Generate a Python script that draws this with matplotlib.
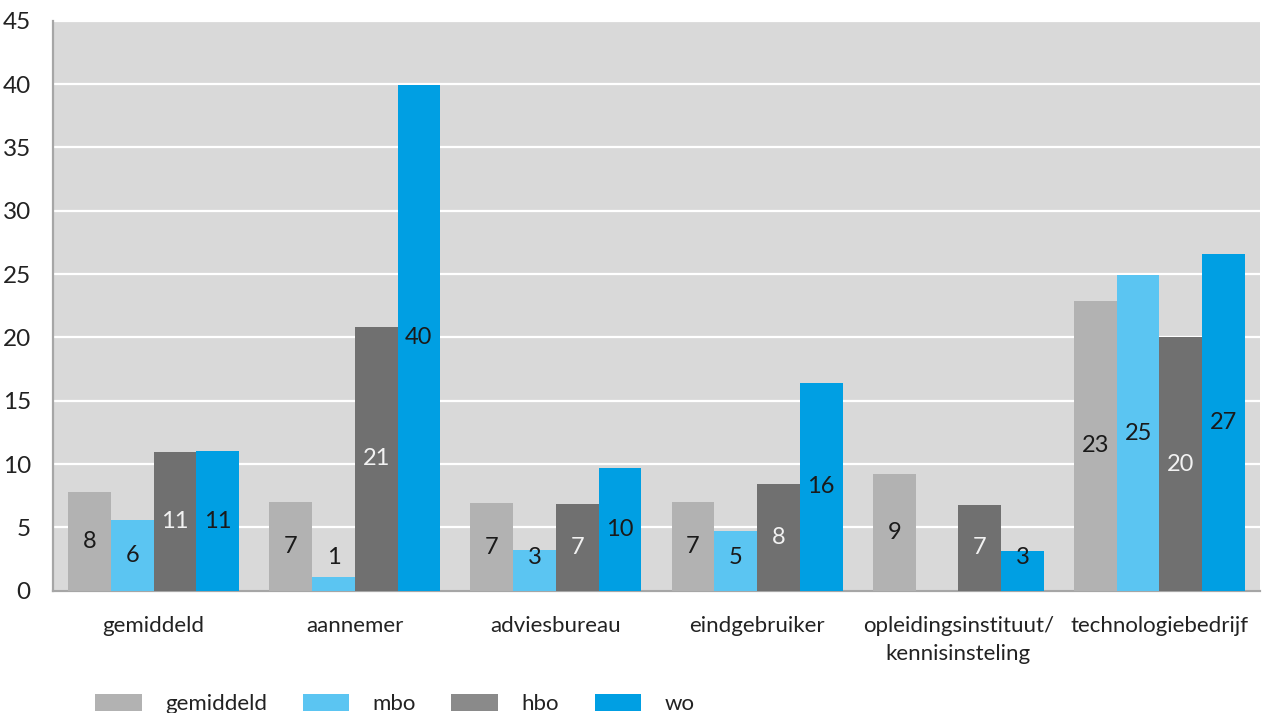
import numpy as np
import matplotlib
matplotlib.use("Agg")
import matplotlib.pyplot as plt
from matplotlib.patches import Patch

plt.rcParams['font.family'] = ['Lato', 'DejaVu Sans']

# categorieen en waarden per opleidingsniveau
categories = ["gemiddeld", "aannemer", "adviesbureau", "eindgebruiker",
              "opleidingsinstituut/\nkennisinsteling", "technologiebedrijf"]
series_names = ["gemiddeld", "mbo", "hbo", "wo"]
gemiddeld = [7.8, 7.0, 6.9, 7.0, 9.2, 22.9]
mbo = [5.6, 1.1, 3.2, 4.7, 0, 24.9]
hbo = [10.95, 20.8, 6.85, 8.45, 6.8, 20.0]
wo = [11.0, 39.95, 9.7, 16.4, 3.15, 26.6]
yticks = [0, 5, 10, 15, 20, 25, 30, 35, 40, 45]

colors = ["#B2B2B2", "#5BC5F2", "#707070", "#009FE3"]
legend_colors = ["#B2B2B2", "#5BC5F2", "#8A8A8A", "#009FE3"]
label_colors = ["#1A1A1A", "#1A1A1A", "#F2F2F2", "#1A1A1A"]

fig = plt.figure(figsize=(12.66, 7.13), dpi=100)
ax = fig.add_axes([0.0419, 0.1715, 0.9534, 0.7995])
ax.set_facecolor("#D9D9D9")

x = np.arange(len(categories))
width = 0.2125
for i, (vals, col, lcol) in enumerate(zip([gemiddeld, mbo, hbo, wo], colors, label_colors)):
    pos = x + (i - 1.5) * width
    ax.bar(pos, vals, width=width, color=col, zorder=3)
    for px, v in zip(pos, vals):
        if v > 0:
            # waarde midden in de staaf, lage staven krijgen het label er net boven
            ax.text(px, max(v / 2, 2.65), f"{v:.0f}", ha="center", va="center",
                    fontsize=17, color=lcol, zorder=4)

ax.set_xlim(-0.5, len(categories) - 0.5)
ax.set_ylim(0, 45)
ax.set_yticks(yticks)
ax.yaxis.grid(True, color="white", linewidth=1.6, zorder=1)
ax.set_axisbelow(True)
ax.tick_params(axis="y", length=0, labelsize=17.5, pad=16, labelcolor="#222222")
ax.tick_params(axis="x", length=0, labelsize=16, pad=18, labelcolor="#222222")
ax.set_xticks(x)
ax.set_xticklabels(categories, linespacing=1.5)

for side in ["top", "right"]:
    ax.spines[side].set_visible(False)
for side in ["left", "bottom"]:
    ax.spines[side].set_color("#A6A6A6")
    ax.spines[side].set_linewidth(1.6)

handles = [Patch(facecolor=c, edgecolor="none") for c in legend_colors]
fig.legend(handles, series_names, ncol=4, loc="center left",
           bbox_to_anchor=(95 / 1266, 1 - 704 / 713), frameon=False,
           fontsize=16, labelcolor="#222222", handlelength=2.1, handleheight=0.85,
           handletextpad=1.05, columnspacing=1.6, borderpad=0, borderaxespad=0)

fig.savefig("out.png", dpi=100)
